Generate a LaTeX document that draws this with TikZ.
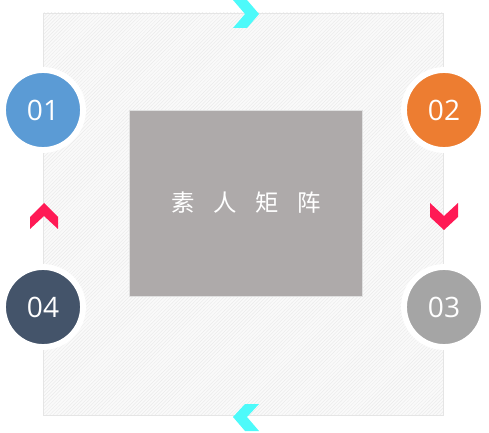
\documentclass[tikz,border=0pt]{standalone}
\usepackage{fontspec}
\setmainfont{Open Sans}
\newfontfamily\cjk{Noto Sans CJK SC}
\usetikzlibrary{patterns}
\definecolor{stepblue}{HTML}{5B9BD5}
\definecolor{steporange}{HTML}{ED7D31}
\definecolor{stepgray}{HTML}{A5A5A5}
\definecolor{stepnavy}{HTML}{44546A}
\definecolor{boxgray}{HTML}{AEAAAA}
\definecolor{arrowcyan}{HTML}{4DFAFA}
\definecolor{arrowred}{HTML}{FF1A55}
\begin{document}
\begin{tikzpicture}[x=0.03cm, y=-0.03cm,
    every node/.style={circle, draw=white, line width=5pt, minimum size=2.4cm,
      text=white, font=\fontsize{24}{24}\selectfont}]
      \useasboundingbox (0,0) rectangle (489,433);

      % hatched frame
      \fill[black!2] (43,13) rectangle (443,415);
      \fill[pattern=north east lines, pattern color=black!8] (43,13) rectangle (443,415);
      \draw[black!10, line width=0.8pt] (43,13) rectangle (443,415);

      % arrows
      \fill[arrowcyan] (233,0) -- (247,0) -- (259,14) -- (247,28) -- (233,28) -- (245,14) -- cycle;
      \fill[arrowcyan] (259,404) -- (245,404) -- (233,417) -- (245,431) -- (259,431) -- (247,417) -- cycle;
      \fill[arrowred] (30,217) -- (44,203) -- (58,217) -- (58,229) -- (44,216) -- (30,229) -- cycle;
      \fill[arrowred] (430,203) -- (444,216) -- (458,203) -- (458,217) -- (444,230) -- (430,217) -- cycle;

      \node[rectangle, draw=black!12, line width=0.6pt, fill=boxgray,
        minimum width=6.99cm, minimum height=5.58cm,
        font=\cjk\fontsize{20}{20}\selectfont] (matrix) at (246,203)
        {素\hspace{0.8em}人\hspace{0.8em}矩\hspace{0.8em}阵};

      \node[fill=stepblue] (s1) at (43,110) {01};
      \node[fill=steporange] (s2) at (444,110) {02};
      \node[fill=stepgray] (s3) at (444,307) {03};
      \node[fill=stepnavy] (s4) at (43,307) {04};
    \end{tikzpicture}
\end{document}
